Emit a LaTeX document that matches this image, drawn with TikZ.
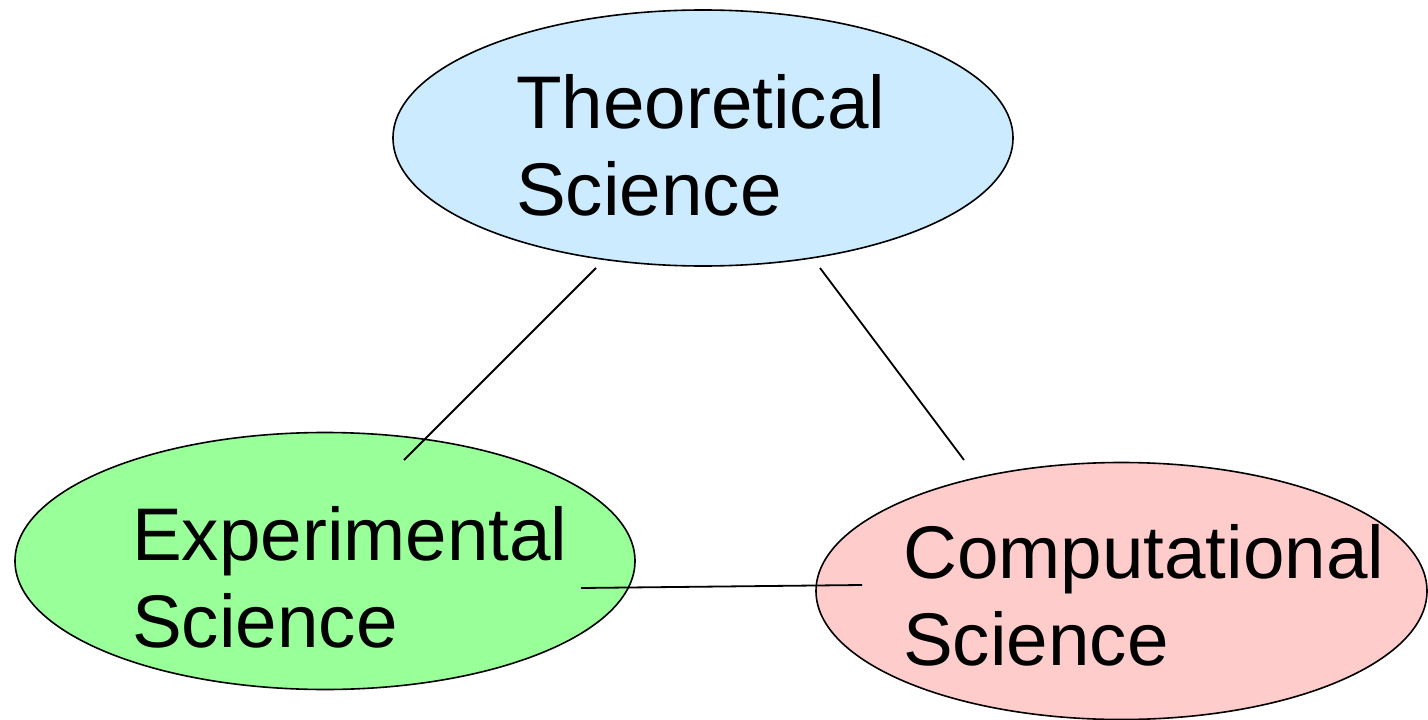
\documentclass[tikz,border=0pt]{standalone}
\usepackage{fontspec}
\setmainfont{Liberation Sans}
\usetikzlibrary{shapes.geometric}
\definecolor{theo}{HTML}{CCEBFF}
\definecolor{expe}{HTML}{99FF99}
\definecolor{comp}{HTML}{FFCCCC}
\tikzset{
  blob/.style={ellipse, draw=black, line width=1.6pt, inner sep=0pt},
  lbl/.style={anchor=base west, align=left, inner sep=0pt, font=\fontsize{74.6}{87}\selectfont},
  link/.style={draw=black, line width=1.8pt}
}
\begin{document}
\begin{tikzpicture}[x=1pt,y=-1pt]
\useasboundingbox (0,0) rectangle (1428,720);
\node[blob, fill=theo, minimum width=620pt, minimum height=256pt] (theo) at (703,138) {};
\node[blob, fill=expe, minimum width=620pt, minimum height=257pt] (expe) at (325,561) {};
\node[blob, fill=comp, minimum width=611pt, minimum height=257pt] (comp) at (1121.5,591) {};
\node[lbl] (theoT) at (516,215) {Theoretical\\Science};
\node[lbl] (expeT) at (132,647) {Experimental\\Science};
\node[lbl] (compT) at (903,665) {Computational\\Science};
\coordinate (a1) at (596,268);
\coordinate (a2) at (404,460);
\coordinate (b1) at (820,268);
\coordinate (b2) at (964,460);
\coordinate (c1) at (581,588);
\coordinate (c2) at (862,585);
\draw[link] (a1) -- (a2);
\draw[link] (b1) -- (b2);
\draw[link] (c1) -- (c2);
\end{tikzpicture}
\end{document}
